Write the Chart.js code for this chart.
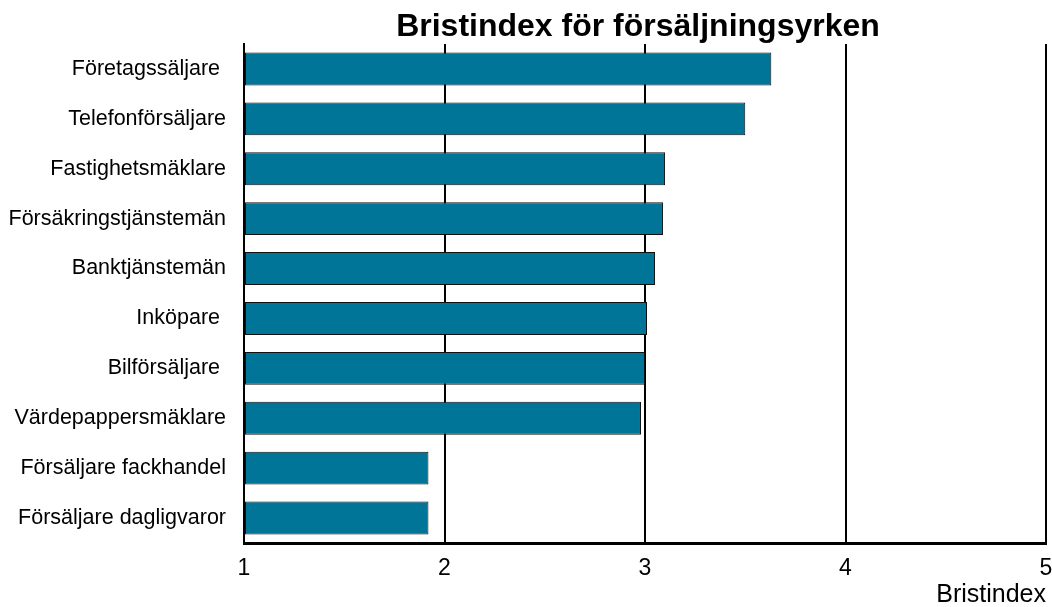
<!DOCTYPE html>
<html lang="sv">
<head>
<meta charset="utf-8">
<title>Bristindex för försäljningsyrken</title>
<script src="https://cdn.jsdelivr.net/npm/chart.js@4.4.1/dist/chart.umd.min.js"></script>
<style>
  html, body { margin: 0; padding: 0; background: #fff; }
  #wrap { width: 1052px; height: 607px; position: relative; }
</style>
</head>
<body>
<div id="wrap"><canvas id="chart"></canvas></div>
<script>
// Yrken (uppifrån och ned) och deras bristindex
const occupations = [
  'Företagssäljare ',
  'Telefonförsäljare',
  'Fastighetsmäklare',
  'Försäkringstjänstemän',
  'Banktjänstemän',
  'Inköpare ',
  'Bilförsäljare ',
  'Värdepappersmäklare',
  'Försäljare fackhandel',
  'Försäljare dagligvaror'
];
const shortageIndex = [3.63, 3.50, 3.10, 3.09, 3.05, 3.01, 3.00, 2.98, 1.92, 1.92];
const xTicks = [1, 2, 3, 4, 5];

const chartTitle = 'Bristindex för försäljningsyrken';
const axisTitle = 'Bristindex';

const FONT = "'Liberation Sans', Arial, Helvetica, sans-serif";

// rubriken ritas över diagramytan (inte mitt på hela bilden)
const titlePlugin = {
  id: 'plotTitle',
  afterDraw(chart) {
    const { ctx, chartArea } = chart;
    ctx.save();
    ctx.font = `bold 32px ${FONT}`;
    ctx.fillStyle = '#000';
    ctx.textAlign = 'center';
    ctx.textBaseline = 'alphabetic';
    ctx.fillText(chartTitle, (chartArea.left + chartArea.right) / 2 - 7, 36);
    ctx.restore();
  }
};

new Chart(document.getElementById('chart'), {
  type: 'bar',
  data: {
    labels: occupations,
    datasets: [{
      data: shortageIndex,
      base: 1,
      backgroundColor: '#007598',
      borderColor: '#111',
      borderWidth: 1,
      borderSkipped: false,
      barPercentage: 0.66,
      categoryPercentage: 1
    }]
  },
  options: {
    indexAxis: 'y',
    responsive: true,
    maintainAspectRatio: false,
    animation: false,
    layout: { padding: { top: 44, right: 6, bottom: 0, left: 0 } },
    plugins: {
      legend: { display: false },
      title: { display: false },
      tooltip: { enabled: false }
    },
    scales: {
      x: {
        type: 'linear',
        min: 1,
        max: 5,
        afterBuildTicks(scale) {
          scale.ticks = xTicks.map(v => ({ value: v }));
        },
        afterFit(scale) {
          scale.height = 64;
          scale.paddingLeft = 0;
          scale.paddingRight = 0;
        },
        grid: { color: '#000', lineWidth: 2, drawTicks: false },
        border: { color: '#000', width: 3 },
        ticks: {
          padding: 12,
          color: '#000',
          font: { family: FONT, size: 23 }
        },
        title: {
          display: true,
          text: axisTitle,
          align: 'end',
          color: '#000',
          font: { family: FONT, size: 25 },
          padding: { top: 0, bottom: -3 }
        }
      },
      y: {
        afterFit(scale) { scale.width = 244; },
        grid: { display: false, drawTicks: false },
        border: { color: '#000', width: 2 },
        ticks: {
          padding: 18,
          color: '#000',
          font: { family: FONT, size: 21.5 }
        }
      }
    }
  },
  plugins: [titlePlugin]
});
</script>
</body>
</html>
